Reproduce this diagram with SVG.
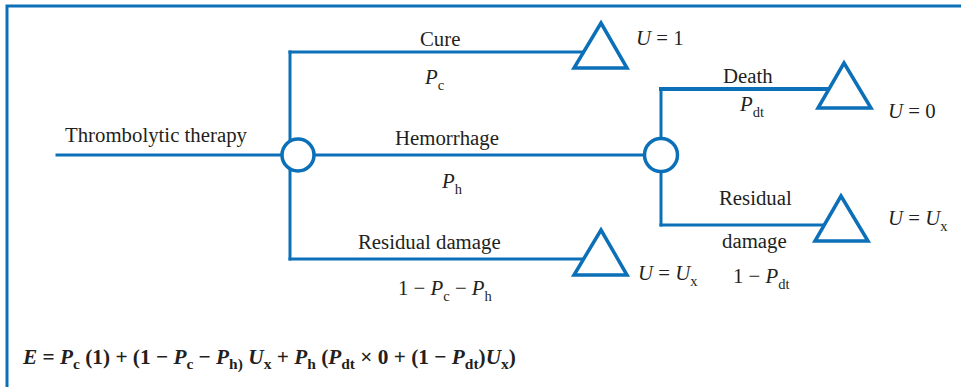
<svg xmlns="http://www.w3.org/2000/svg" width="961" height="387" viewBox="0 0 961 387">
<style>
.ln{stroke:#0b70b8;stroke-width:3;fill:none;stroke-linecap:square}
.nd{stroke:#0b70b8;stroke-width:3.5;fill:#fff}
.tri{stroke:#0b70b8;stroke-width:3.5;fill:#fff;stroke-linejoin:miter}
text{font-family:"Liberation Serif","Times New Roman",Times,serif;font-size:20.8px;fill:#231f20}
.i{font-style:italic}
.s{font-size:14.5px;font-style:normal}
.f{font-weight:bold;font-size:21.3px}
.fs{font-size:15.5px;font-style:normal;font-weight:bold}
</style>
<rect x="7" y="6" width="1000" height="420" fill="none" stroke="#0b70b8" stroke-width="3"/>
<g id="connectors">
<line class="ln" x1="57" y1="155" x2="282" y2="155"/>
<line class="ln" x1="290" y1="52" x2="290" y2="259"/>
<line class="ln" x1="290" y1="52" x2="584" y2="52"/>
<line class="ln" x1="315" y1="155" x2="645" y2="155"/>
<line class="ln" x1="290" y1="259" x2="584" y2="259"/>
<line class="ln" x1="661" y1="89" x2="661" y2="225"/>
<line class="ln" x1="661" y1="89" x2="829" y2="89" style="stroke-width:4"/>
<line class="ln" x1="661" y1="225" x2="824" y2="225"/>
</g>
<g id="chance1"><circle class="nd" cx="298" cy="155" r="16"/></g>
<g id="chance2"><circle class="nd" cx="661" cy="155" r="16.5"/></g>
<g id="term-cure"><polygon class="tri" points="601,23 627,68 574,68"/></g>
<g id="term-death"><polygon class="tri" points="844,63 871,108 818,108"/></g>
<g id="term-residual2"><polygon class="tri" points="841,196 868,241 815,241"/></g>
<g id="term-residual1"><polygon class="tri" points="601,230 627,275 574,275"/></g>
<g id="labels">
<text x="65" y="142">Thrombolytic therapy</text>
<text x="420" y="46">Cure</text>
<text x="425" y="84"><tspan class="i">P</tspan><tspan class="s" dy="6">c</tspan></text>
<text x="395" y="145">Hemorrhage</text>
<text x="442" y="188"><tspan class="i">P</tspan><tspan class="s" dy="6">h</tspan></text>
<text x="358" y="249">Residual damage</text>
<text x="398" y="295">1 − <tspan class="i">P</tspan><tspan class="s" dy="6">c</tspan><tspan dy="-6"> − </tspan><tspan class="i">P</tspan><tspan class="s" dy="6">h</tspan></text>
<text x="636" y="45"><tspan class="i">U</tspan> = 1</text>
<text x="723" y="83">Death</text>
<text x="740" y="111"><tspan class="i">P</tspan><tspan class="s" dy="6">dt</tspan></text>
<text x="888" y="118"><tspan class="i">U</tspan> = 0</text>
<text x="719" y="205">Residual</text>
<text x="722" y="248">damage</text>
<text x="888" y="225"><tspan class="i">U</tspan> = <tspan class="i">U</tspan><tspan class="s" dy="6">x</tspan></text>
<text x="638" y="280"><tspan class="i">U</tspan> = <tspan class="i">U</tspan><tspan class="s" dy="6">x</tspan></text>
<text x="733" y="283">1 − <tspan class="i">P</tspan><tspan class="s" dy="6">dt</tspan></text>
<text class="f" x="23" y="364"><tspan class="i">E</tspan> = <tspan class="i">P</tspan><tspan class="fs" dy="5">c</tspan><tspan dy="-5"> (1) + (1 − </tspan><tspan class="i">P</tspan><tspan class="fs" dy="5">c</tspan><tspan dy="-5"> − </tspan><tspan class="i">P</tspan><tspan class="fs" dy="5">h)</tspan><tspan dy="-5"> </tspan><tspan class="i">U</tspan><tspan class="fs" dy="5">x</tspan><tspan dy="-5"> + </tspan><tspan class="i">P</tspan><tspan class="fs" dy="5">h</tspan><tspan dy="-5"> (</tspan><tspan class="i">P</tspan><tspan class="fs" dy="5">dt</tspan><tspan dy="-5"> × 0 + (1 − </tspan><tspan class="i">P</tspan><tspan class="fs" dy="5">dt</tspan><tspan dy="-5">)</tspan><tspan class="i">U</tspan><tspan class="fs" dy="5">x</tspan><tspan dy="-5">)</tspan></text>
</g>
</svg>
